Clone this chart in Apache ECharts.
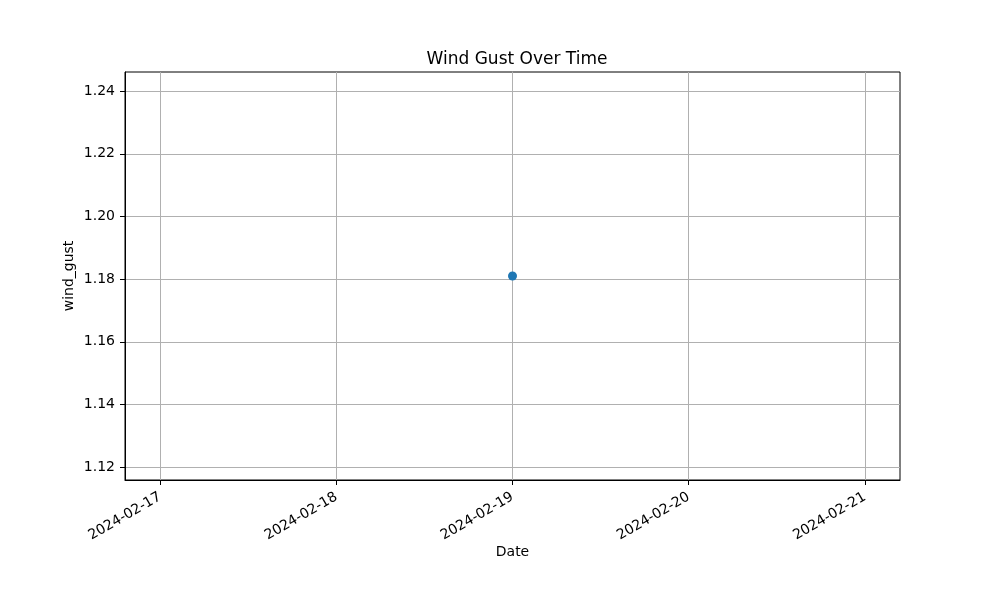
<!DOCTYPE html>
<html>
<head>
<meta charset="utf-8">
<script src="https://cdn.jsdelivr.net/npm/echarts@6/dist/echarts.min.js"></script>
<style>
  html, body { margin: 0; padding: 0; background: #fff; }
  #chart { width: 1000px; height: 600px; }
</style>
</head>
<body>
<div id="chart"></div>
<script>
// data
const dates = ['2024-02-19'];
const windGust = [1.181];
const xTickDates = ['2024-02-17', '2024-02-18', '2024-02-19', '2024-02-20', '2024-02-21'];
const yTicks = [1.12, 1.14, 1.16, 1.18, 1.20, 1.22, 1.24];

const DAY = 86400000;
const toTs = function (d) { return Date.parse(d + 'T00:00:00Z'); };
const fmtDate = function (v) { return new Date(Math.round(v)).toISOString().slice(0, 10); };

// axis limits like matplotlib's single-point padding
const xMin = toTs(dates[0]) - 2.2 * DAY;
const xMax = toTs(dates[0]) + 2.2 * DAY;
const yMin = 1.1159;
const yMax = 1.2461;

const font = 'DejaVu Sans';
const chart = echarts.init(document.getElementById('chart'));

const option = {
    animation: false,
    title: {
        text: 'Wind Gust Over Time',
        left: 512,
        top: 46,
        textAlign: 'center',
        textStyle: { fontFamily: font, fontSize: 17, fontWeight: 'normal', color: '#000' }
    },
    grid: { left: 125, right: 100, top: 72, bottom: 120, show: true, borderColor: '#000', borderWidth: 1 },
    xAxis: {
        type: 'value',
        min: xMin,
        max: xMax,
        name: 'Date',
        nameLocation: 'middle',
        nameGap: 65,
        nameMoveOverlap: false,
        nameTextStyle: { fontFamily: font, fontSize: 14, color: '#000' },
        axisLine: { show: true, lineStyle: { color: '#000' } },
        axisTick: { show: true, length: 5, lineStyle: { color: '#000' }, customValues: xTickDates.map(toTs) },
        axisLabel: {
            customValues: xTickDates.map(toTs),
            rotate: 30,
            fontFamily: font,
            fontSize: 14,
            color: '#000',
            margin: 16,
            formatter: function (v) { return fmtDate(v); }
        },
        splitLine: { show: true, lineStyle: { color: '#b0b0b0', width: 1 } }
    },
    yAxis: {
        type: 'value',
        min: yMin,
        max: yMax,
        name: 'wind_gust',
        nameLocation: 'middle',
        nameGap: 49,
        nameMoveOverlap: false,
        nameTextStyle: { fontFamily: font, fontSize: 14, color: '#000' },
        axisLine: { show: true, lineStyle: { color: '#000' } },
        axisTick: { show: true, length: 5, lineStyle: { color: '#000' }, customValues: yTicks },
        axisLabel: {
            customValues: yTicks,
            fontFamily: font,
            fontSize: 14,
            color: '#000',
            margin: 10,
            formatter: function (v) { return v.toFixed(2); }
        },
        splitLine: { show: true, lineStyle: { color: '#b0b0b0', width: 1 } }
    },
    series: [{
        type: 'line',
        data: dates.map(function (d, i) { return [toTs(d), windGust[i]]; }),
        symbol: 'circle',
        symbolSize: 9,
        showSymbol: true,
        itemStyle: { color: '#1f77b4' },
        lineStyle: { color: '#1f77b4', width: 1.5 }
    }]
};

chart.setOption(option);
</script>
</body>
</html>
